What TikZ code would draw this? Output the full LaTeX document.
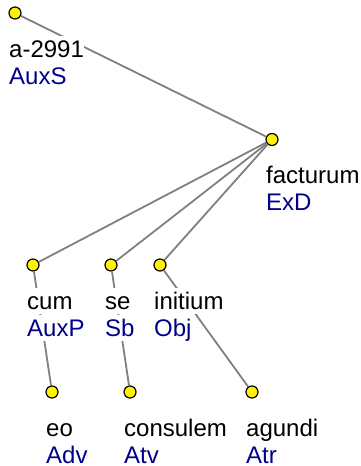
\documentclass[tikz,border=0pt]{standalone}
\usepackage{fontspec}
\setmainfont{Liberation Sans}
\usetikzlibrary{calc}
\definecolor{funcblue}{HTML}{00008B}
\definecolor{edgegray}{HTML}{808080}
\tikzset{
  tnode/.style={circle, draw=black, line width=1.2pt, fill=yellow, minimum size=12pt, inner sep=0pt},
  tedge/.style={draw=edgegray, line width=1.8pt},
  form/.style={anchor=base west, fill=white, inner sep=0pt, text height=21.5pt, text depth=5pt,
    font=\fontsize{24}{27}\selectfont, text=black},
  afun/.style={form, text=funcblue},
}
\begin{document}
\begin{tikzpicture}[x=1pt, y=-1pt]
\useasboundingbox (0,0) rectangle (360,466);
% tree nodes
\node[tnode] (root) at (15,13) {};
\node[tnode] (fact) at (272,139.5) {};
\node[tnode] (cum) at (33,265) {};
\node[tnode] (se) at (111,265) {};
\node[tnode] (init) at (160,265) {};
\node[tnode] (eo) at (52,392) {};
\node[tnode] (cons) at (130,392) {};
\node[tnode] (agun) at (252,392) {};
% dependency edges
\draw[tedge] (root) -- (fact);
\draw[tedge] (fact) -- (cum);
\draw[tedge] (fact) -- (se);
\draw[tedge] (fact) -- (init);
\draw[tedge] (cum) -- (eo);
\draw[tedge] (se) -- (cons);
\draw[tedge] (init) -- (agun);
% word forms and their functions
\node[form] (root-w) at ($(root)+(-6,44)$) {a-2991};
\node[afun] (root-f) at ($(root)+(-6,71)$) {AuxS};
\node[form] (fact-w) at ($(fact)+(-6,44)$) {facturum};
\node[afun] (fact-f) at ($(fact)+(-6,71)$) {ExD};
\node[form] (cum-w) at ($(cum)+(-6,44)$) {cum};
\node[afun] (cum-f) at ($(cum)+(-6,71)$) {AuxP};
\node[form] (se-w) at ($(se)+(-6,44)$) {se};
\node[afun] (se-f) at ($(se)+(-6,71)$) {Sb};
\node[form] (init-w) at ($(init)+(-6,44)$) {initium};
\node[afun] (init-f) at ($(init)+(-6,71)$) {Obj};
\node[form] (eo-w) at ($(eo)+(-6,44)$) {eo};
\node[afun] (eo-f) at ($(eo)+(-6,71)$) {Adv};
\node[form] (cons-w) at ($(cons)+(-6,44)$) {consulem};
\node[afun] (cons-f) at ($(cons)+(-6,71)$) {Atv};
\node[form] (agun-w) at ($(agun)+(-6,44)$) {agundi};
\node[afun] (agun-f) at ($(agun)+(-6,71)$) {Atr};
\end{tikzpicture}
\end{document}
